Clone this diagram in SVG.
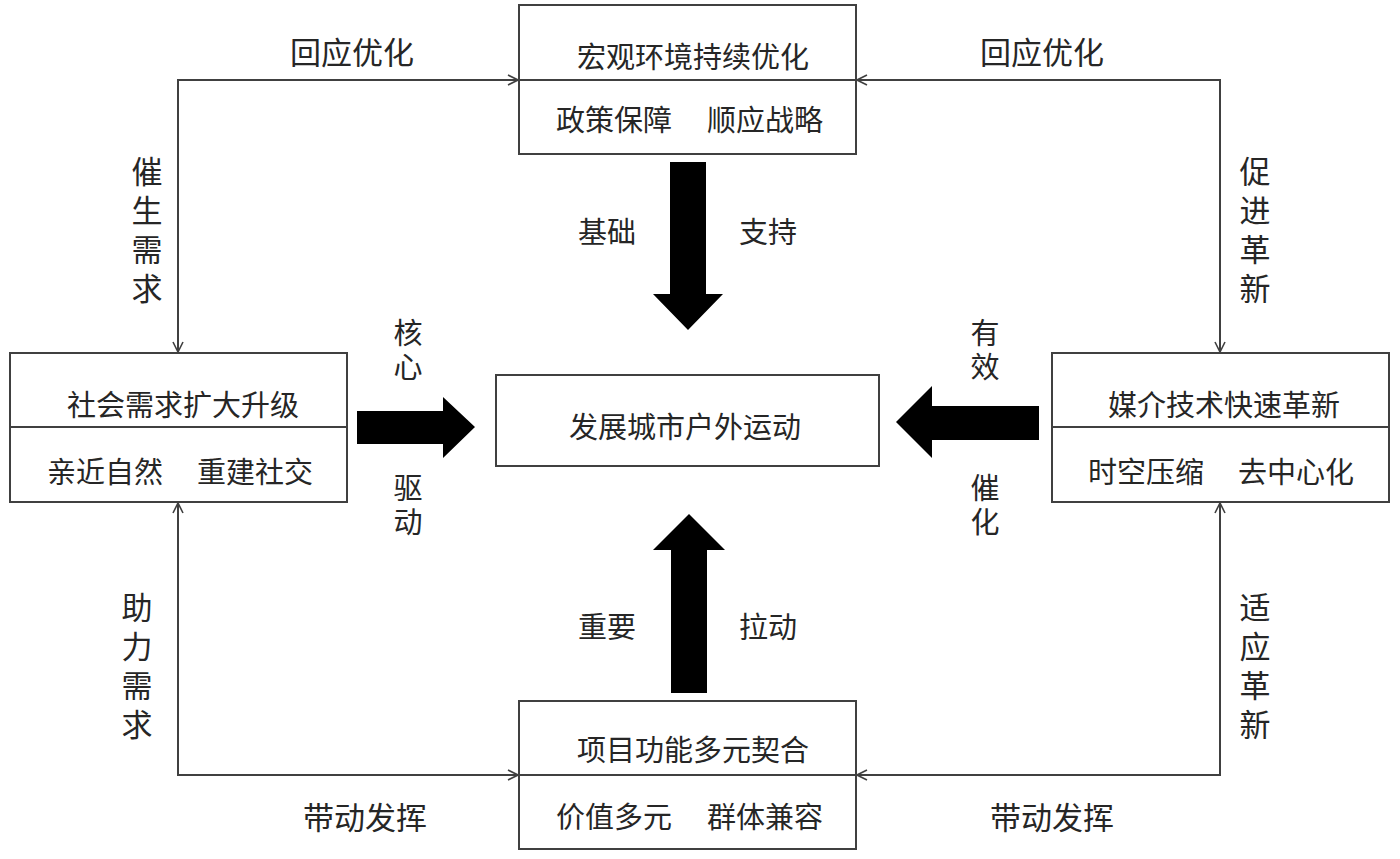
<svg xmlns="http://www.w3.org/2000/svg" width="1400" height="859" viewBox="0 0 1400 859">
<defs>
<style>
.box{fill:#fff;stroke:#404040;stroke-width:2}
.div{stroke:#404040;stroke-width:2}
.t{font-family:"Noto Sans CJK SC","Noto Sans",sans-serif;font-size:29px;fill:#262626;text-anchor:middle;dominant-baseline:central}
.lbl{font-family:"Noto Sans CJK SC","Noto Sans",sans-serif;font-size:31px;fill:#262626;text-anchor:middle;dominant-baseline:central}
.v4{writing-mode:vertical-rl;letter-spacing:8px}
.v2{writing-mode:vertical-rl;letter-spacing:5px}
.conn{fill:none;stroke:#404040;stroke-width:2;marker-start:url(#chev);marker-end:url(#chev)}
.big{fill:#000}
</style>
<marker id="chev" viewBox="0 0 12 12" refX="11" refY="6" markerWidth="12" markerHeight="12" markerUnits="userSpaceOnUse" orient="auto-start-reverse">
<path d="M1,1 L11,6 L1,11" fill="none" stroke="#404040" stroke-width="1.6"/>
</marker>
</defs>
<rect width="1400" height="859" fill="#fff"/>

<g id="connectors">
<polyline class="conn" points="178,352 178,80 518,80"/>
<polyline class="conn" points="1220,352 1220,80 857,80"/>
<polyline class="conn" points="178,503 178,775 518,775"/>
<polyline class="conn" points="1220,503 1220,775 857,775"/>
<polygon class="big" points="670,162 706,162 706,294 723,294 688,330 653,294 670,294"/>
<polygon class="big" points="671,693 707,693 707,550 725,550 689,514 653,550 671,550"/>
<polygon class="big" points="357,411 443,411 443,397 475,427 443,458 443,444 357,444"/>
<polygon class="big" points="1039,406 932,406 932,386 896,422 932,458 932,440 1039,440"/>
</g>

<g id="labels">
<text class="lbl" x="352" y="50">回应优化</text>
<text class="lbl" x="1042" y="50">回应优化</text>
<text class="lbl" x="365" y="815">带动发挥</text>
<text class="lbl" x="1052" y="815">带动发挥</text>
<text class="lbl v4" x="147" y="234">催生需求</text>
<text class="lbl v4" x="137" y="670">助力需求</text>
<text class="lbl v4" x="1255" y="234">促进革新</text>
<text class="lbl v4" x="1255" y="670">适应革新</text>
<text class="t" x="607" y="230">基础</text>
<text class="t" x="768" y="230">支持</text>
<text class="t" x="607" y="625">重要</text>
<text class="t" x="768" y="625">拉动</text>
<text class="t v2" x="408" y="352">核心</text>
<text class="t v2" x="408" y="507">驱动</text>
<text class="t v2" x="985" y="352">有效</text>
<text class="t v2" x="985" y="507">催化</text>
</g>

<g id="node-top">
<rect class="box" x="519" y="5" width="337" height="149"/>
<line class="div" x1="519" y1="80" x2="856" y2="80"/>
<text class="t" x="693" y="55">宏观环境持续优化</text>
<text class="t" x="614" y="118">政策保障</text>
<text class="t" x="765" y="118">顺应战略</text>
</g>

<g id="node-left">
<rect class="box" x="10" y="353" width="337" height="149"/>
<line class="div" x1="10" y1="427" x2="347" y2="427"/>
<text class="t" x="183" y="403">社会需求扩大升级</text>
<text class="t" x="105" y="470">亲近自然</text>
<text class="t" x="255" y="470">重建社交</text>
</g>

<g id="node-right">
<rect class="box" x="1052" y="353" width="337" height="149"/>
<line class="div" x1="1052" y1="427" x2="1389" y2="427"/>
<text class="t" x="1224" y="403">媒介技术快速革新</text>
<text class="t" x="1146" y="470">时空压缩</text>
<text class="t" x="1296" y="470">去中心化</text>
</g>

<g id="node-bottom">
<rect class="box" x="519" y="701" width="337" height="148"/>
<line class="div" x1="519" y1="775" x2="856" y2="775"/>
<text class="t" x="693" y="748">项目功能多元契合</text>
<text class="t" x="614" y="815">价值多元</text>
<text class="t" x="765" y="815">群体兼容</text>
</g>

<g id="node-center">
<rect class="box" x="496" y="375" width="383" height="91"/>
<text class="t" x="685" y="425">发展城市户外运动</text>
</g>
</svg>
